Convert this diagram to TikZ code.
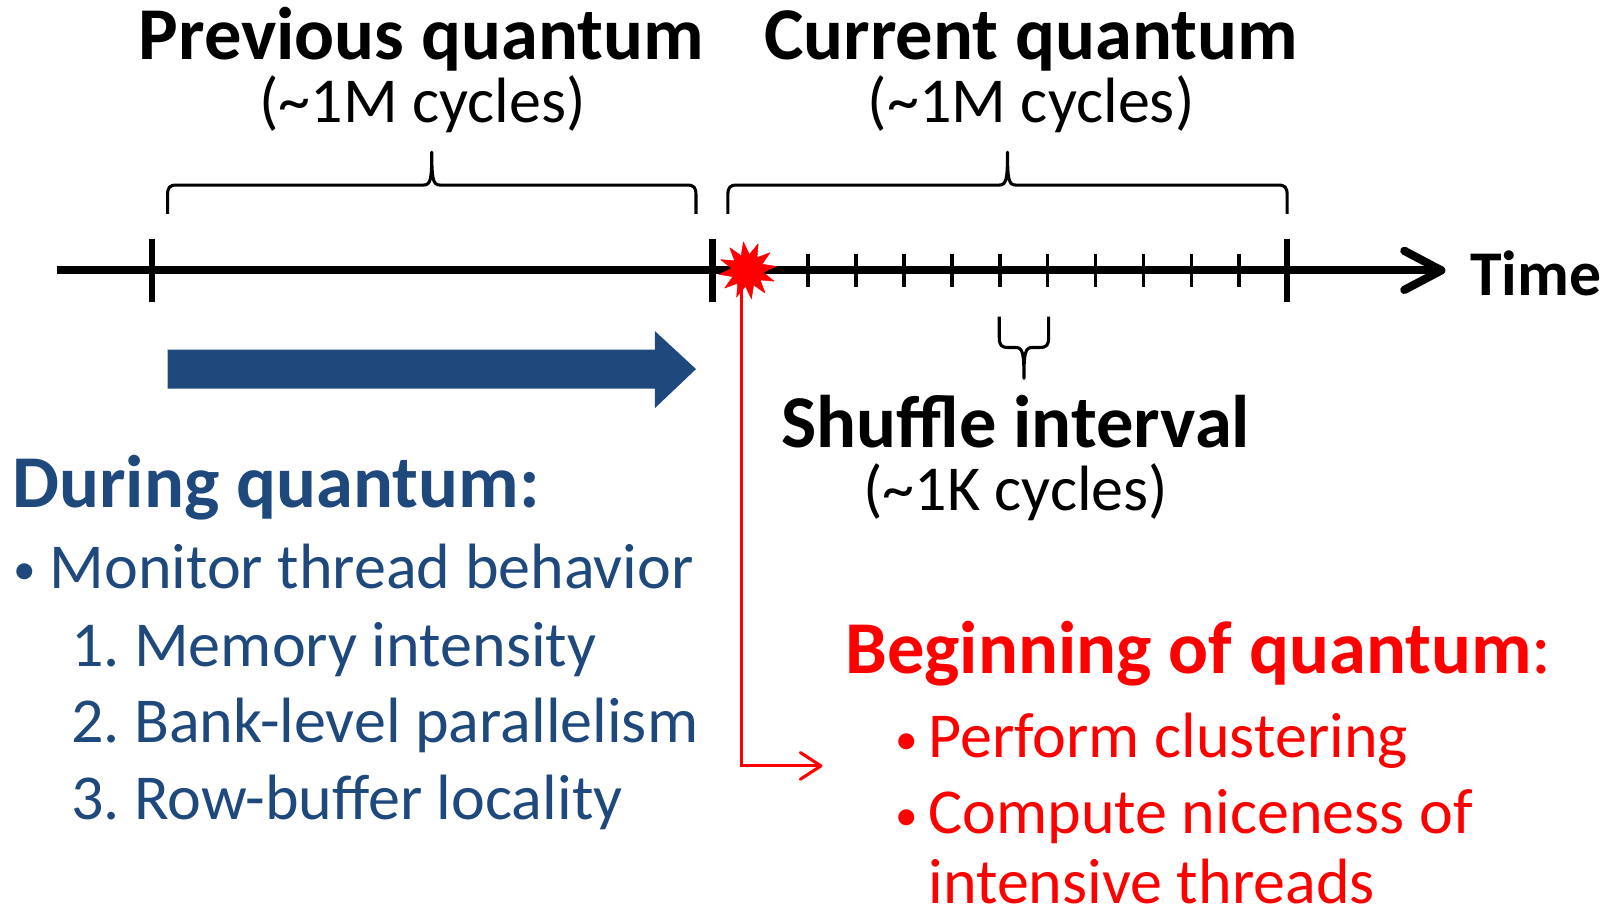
\documentclass[tikz,border=0pt]{standalone}
\usepackage{fontspec}
\setmainfont{Carlito}
\usetikzlibrary{shapes.geometric,arrows.meta}
\definecolor{navy}{RGB}{31,73,125}
\definecolor{redc}{RGB}{255,0,0}
\newcommand\mybrace[7]{\draw[bracestyle] (#1,#5) -- ({#1},{#4+10*(#7)}) .. controls ({#1},{#4+2*(#7)}) and ({#1+2},{#4}) .. ({#1+9},{#4}) -- ({#3-8},{#4}) .. controls ({#3-1},{#4}) and ({#3},{#4-6*(#7)}) .. ({#3},{#6}) .. controls ({#3},{#4-6*(#7)}) and ({#3+1},{#4}) .. ({#3+8},{#4}) -- ({#2-9},{#4}) .. controls ({#2-2},{#4}) and ({#2},{#4+2*(#7)}) .. ({#2},{#4+10*(#7)}) -- (#2,#5);}
\newcommand\smallbullet{{\fontsize{44}{50}\selectfont\raisebox{3pt}{•}}}
\begin{document}
\begin{tikzpicture}[x=1pt,y=-1pt,
  title/.style={font=\fontsize{72.5}{80}\selectfont\bfseries, inner sep=0, anchor=base},
  sub/.style={font=\fontsize{62.3}{70}\selectfont, inner sep=0, anchor=base},
  bracestyle/.style={line width=3pt, line join=round},
  axis/.style={line width=8pt},
  bigtick/.style={line width=6pt},
  smalltick/.style={line width=3.5pt},
  bluetxt/.style={text=navy},
  redtxt/.style={text=redc},
  lefttxt/.style={anchor=base west}]
\useasboundingbox (0,0) rectangle (1568,888);
% timeline
\coordinate (tstart) at (55,263);
\coordinate (tend) at (1402,263);
\draw[axis] (tstart) -- (tend);
\draw[axis, line cap=round, line join=round] (1366,244) -- (tend) -- (1366,282);
\foreach \x in {148,693,1252} \draw[bigtick] (\x,232) -- (\x,294);
\foreach \k in {2,...,11} \draw[smalltick] ({693+46.58*\k},247) -- ({693+46.58*\k},279);
\node[sub, lefttxt, font=\fontsize{62}{70}\selectfont\bfseries] (time) at (1430,287) {Time};
% braces
\mybrace{163}{677}{420}{180}{208}{148}{1}
\mybrace{708}{1252}{980}{180}{208}{148}{1}
\mybrace{972}{1020}{996}{338}{308}{368}{-1}
% titles
\node[title] (prevq) at (410,58) {Previous quantum};
\node[sub] (prevc) at (411,119) {(\textasciitilde1M cycles)};
\node[title] (curq) at (1003,58) {Current quantum};
\node[sub] (curc) at (1003,119) {(\textasciitilde1M cycles)};
\node[title] (shuf) at (988,435) {Shuffle interval};
\node[sub] (shufc) at (988,497) {(\textasciitilde1K cycles)};
% blue arrow
\fill[navy] (163,340) -- (637,340) -- (637,322) -- (677,359) -- (637,397) -- (637,378) -- (163,378) -- cycle;
% star and red connector
\node[star, star points=12, star point ratio=1.8, minimum size=56pt, fill=redc, draw=redc, line join=round, inner sep=0, rotate=8] (star) at (727,263) {};
\coordinate (rend) at (800,745);
\draw[redc, line width=3pt, -{Straight Barb[length=20pt,width=26pt,round]}] ([xshift=-6pt]star.center) |- (rend);
% left text
\node[title, lefttxt, bluetxt] (during) at (12,494) {During quantum:};
\node[sub, lefttxt, bluetxt] (b1) at (13,572) {\smallbullet};
\node[sub, lefttxt, bluetxt] (mon) at (48,572) {Monitor thread behavior};
\node[sub, lefttxt, bluetxt] (i1) at (69,648) {1.\ Memory intensity};
\node[sub, lefttxt, bluetxt] (i2) at (69,722) {2.\ Bank-level parallelism};
\node[sub, lefttxt, bluetxt] (i3) at (69,797) {3.\ Row-buffer locality};
% right text
\node[title, lefttxt, redtxt] (begin) at (822,655) {Beginning of quantum{\mdseries:}};
\node[sub, lefttxt, redtxt] (b2) at (871,737) {\smallbullet};
\node[sub, lefttxt, redtxt] (perf) at (903,737) {Perform clustering};
\node[sub, lefttxt, redtxt] (b3) at (871,811) {\smallbullet};
\node[sub, lefttxt, redtxt] (comp) at (903,811) {Compute niceness of};
\node[sub, lefttxt, redtxt, text depth=0pt] (intens) at (903,879) {intensive threads};
\end{tikzpicture}
\end{document}
